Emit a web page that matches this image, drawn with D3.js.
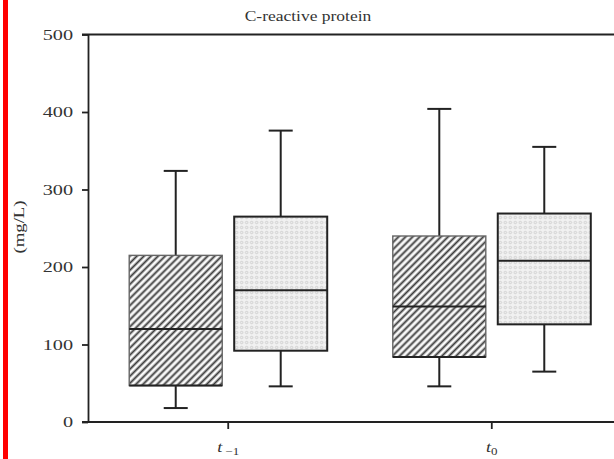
<!DOCTYPE html>
<html>
<head>
<meta charset="utf-8">
<script src="https://cdn.jsdelivr.net/npm/d3@7"></script>
<style>
  html, body { margin: 0; padding: 0; background: #fff; overflow: hidden; }
  svg { display: block; }
</style>
</head>
<body>
<svg id="chart" width="614" height="459"></svg>
<script>
// time points and the two groups drawn in each
const categories = ["t-1", "t0"];
const groups = ["hatched", "dotted"];
const yTicks = [0, 100, 200, 300, 400, 500];

// box statistics (mg/L), one entry per time point
const hatchedLow = [18, 46];
const hatchedQ1 = [47, 84];
const hatchedMedian = [120, 149];
const hatchedQ3 = [215, 240];
const hatchedHigh = [324, 404];

const dottedLow = [46, 65];
const dottedQ1 = [92, 126];
const dottedMedian = [170, 208];
const dottedQ3 = [265, 269];
const dottedHigh = [376, 355];

const boxes = [];
categories.forEach((c, i) => {
    boxes.push({ cat: c, group: "hatched", low: hatchedLow[i], q1: hatchedQ1[i], med: hatchedMedian[i], q3: hatchedQ3[i], high: hatchedHigh[i] });
    boxes.push({ cat: c, group: "dotted", low: dottedLow[i], q1: dottedQ1[i], med: dottedMedian[i], q3: dottedQ3[i], high: dottedHigh[i] });
});

const W = 614;
const svg = d3.select("#chart");
const ink = "#222";
const textCol = "#333";
const font = "'Liberation Serif', 'Times New Roman', serif";

// red bar on the left edge
svg.append("rect")
    .attr("x", 3).attr("y", 0)
    .attr("width", 5).attr("height", 459)
    .attr("fill", "#ff0000");

const defs = svg.append("defs");

const hatch = defs.append("pattern")
    .attr("id", "hatch")
    .attr("patternUnits", "userSpaceOnUse")
    .attr("width", 5).attr("height", 5)
    .attr("patternTransform", "rotate(45)");
hatch.append("rect").attr("width", 5).attr("height", 5).attr("fill", "#fafafa");
hatch.append("line")
    .attr("x1", 1.5).attr("y1", 0).attr("x2", 1.5).attr("y2", 5)
    .attr("stroke", "#3a3a3a").attr("stroke-width", 1.9);

const dots = defs.append("pattern")
    .attr("id", "dots")
    .attr("patternUnits", "userSpaceOnUse")
    .attr("width", 5).attr("height", 5);
dots.append("rect").attr("width", 5).attr("height", 5).attr("fill", "#f1f1f1");
dots.append("circle")
    .attr("cx", 2.5).attr("cy", 2.5).attr("r", 1.2)
    .attr("fill", "none").attr("stroke", "#c4c4c4").attr("stroke-width", 0.8);

const x = d3.scaleBand()
    .domain(categories)
    .range([88, 632])
    .paddingInner(0)
    .paddingOuter(0.032);

const xSub = d3.scaleBand()
    .domain(groups)
    .range([-99, 99])
    .paddingInner(0.114);

const y = d3.scaleLinear()
    .domain([0, 500])
    .range([422, 34.5]);

const fill = d3.scaleOrdinal().domain(groups).range(["url(#hatch)", "url(#dots)"]);
const edge = d3.scaleOrdinal().domain(groups).range(["#666", ink]);

// frame: top line
svg.append("line")
    .attr("x1", 82).attr("x2", W)
    .attr("y1", y(500)).attr("y2", y(500))
    .attr("stroke", ink).attr("stroke-width", 1.8);

// y axis
const yAxis = svg.append("g")
    .attr("transform", "translate(88,0)")
    .call(d3.axisLeft(y).tickValues(yTicks).tickSize(6).tickSizeOuter(0).tickPadding(9));
yAxis.select(".domain").attr("stroke", ink).attr("stroke-width", 1.8);
yAxis.selectAll(".tick line").attr("stroke", ink).attr("stroke-width", 1.8);
yAxis.selectAll(".tick text")
    .attr("fill", textCol)
    .attr("font-family", font)
    .attr("font-size", 15)
    .attr("x", -15 / 1.35)
    .attr("transform", "scale(1.35,1)");

// x axis
const xAxis = svg.append("g")
    .attr("transform", `translate(0,${y(0)})`)
    .call(d3.axisBottom(x).tickSize(7).tickSizeOuter(0).tickFormat(""));
xAxis.select(".domain").attr("d", `M82,0H${W}`).attr("stroke", ink).attr("stroke-width", 1.8);
xAxis.selectAll(".tick line").attr("stroke", ink).attr("stroke-width", 1.8);

xAxis.selectAll(".tick").append("text")
    .attr("fill", textCol)
    .attr("font-family", font)
    .attr("font-size", 14)
    .attr("text-anchor", "middle")
    .attr("y", 30)
    .attr("transform", "scale(1.3,1)")
    .each(function (d) {
        const t = d3.select(this);
        t.append("tspan").attr("font-style", "italic").text("t");
        t.append("tspan")
            .attr("font-size", 10)
            .attr("dy", 3)
            .text(d === "t-1" ? " \u22121" : "0");
    });

// y label
svg.append("text")
    .attr("transform", "translate(24,227) rotate(-90)")
    .attr("text-anchor", "middle")
    .attr("fill", textCol)
    .attr("font-family", font)
    .attr("font-size", 15)
    .attr("textLength", 53)
    .attr("lengthAdjust", "spacingAndGlyphs")
    .text("(mg/L)");

// title
svg.append("text")
    .attr("x", 308 / 1.25).attr("y", 21)
    .attr("transform", "scale(1.25,1)")
    .attr("text-anchor", "middle")
    .attr("fill", textCol)
    .attr("font-family", font)
    .attr("font-size", 14)
    .text("C-reactive protein");

// boxes
const box = svg.append("g").selectAll("g")
    .data(boxes)
    .join("g")
    .attr("transform", d => `translate(${x(d.cat) + x.bandwidth() / 2 + xSub(d.group)},0)`);

const bw = xSub.bandwidth();
const cap = 24;

box.append("line")
    .attr("x1", bw / 2).attr("x2", bw / 2)
    .attr("y1", d => y(d.high)).attr("y2", d => y(d.q3))
    .attr("stroke", ink).attr("stroke-width", 2);
box.append("line")
    .attr("x1", bw / 2).attr("x2", bw / 2)
    .attr("y1", d => y(d.q1)).attr("y2", d => y(d.low))
    .attr("stroke", ink).attr("stroke-width", 2);
box.append("line")
    .attr("x1", bw / 2 - cap / 2).attr("x2", bw / 2 + cap / 2)
    .attr("y1", d => y(d.high)).attr("y2", d => y(d.high))
    .attr("stroke", ink).attr("stroke-width", 2);
box.append("line")
    .attr("x1", bw / 2 - cap / 2).attr("x2", bw / 2 + cap / 2)
    .attr("y1", d => y(d.low)).attr("y2", d => y(d.low))
    .attr("stroke", ink).attr("stroke-width", 2);

box.append("rect")
    .attr("x", 0)
    .attr("width", bw)
    .attr("y", d => y(d.q3))
    .attr("height", d => y(d.q1) - y(d.q3))
    .attr("fill", d => fill(d.group))
    .attr("stroke", d => edge(d.group))
    .attr("stroke-width", d => d.group === "hatched" ? 1.4 : 2);

// hatched boxes have a darker bottom edge
box.filter(d => d.group === "hatched").append("line")
    .attr("x1", 0).attr("x2", bw)
    .attr("y1", d => y(d.q1)).attr("y2", d => y(d.q1))
    .attr("stroke", ink).attr("stroke-width", 2);

box.append("line")
    .attr("x1", 0).attr("x2", bw)
    .attr("y1", d => y(d.med)).attr("y2", d => y(d.med))
    .attr("stroke", ink).attr("stroke-width", 2);
</script>
</body>
</html>
